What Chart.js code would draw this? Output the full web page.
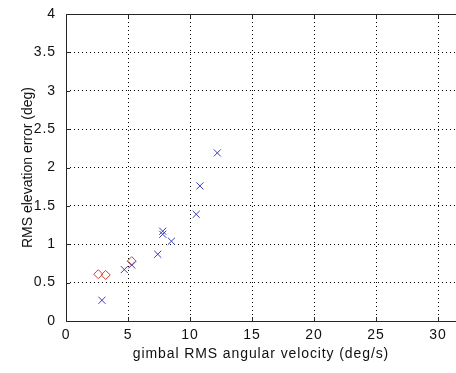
<!DOCTYPE html>
<html lang="en">
<head>
    <meta charset="UTF-8">
    <title>RMS elevation error vs gimbal angular velocity</title>
    <style>
        body {
            margin: 0;
            padding: 0;
            background: #fff;
        }

        .chart-box {
            width: 456px;
            height: 373px;
        }
    </style>
</head>
<body>
    <div class="chart-box">
        <canvas id="errChart" width="456" height="373"></canvas>
    </div>

    <script src="https://cdn.jsdelivr.net/npm/chart.js"></script>
    <script>
        // values
        const diamondX = [2.6, 3.2, 5.3];
        const diamondY = [0.61, 0.60, 0.78];
        const crossX = [2.9, 4.7, 5.3, 7.4, 7.8, 7.8, 8.5, 10.5, 10.8, 12.2];
        const crossY = [0.27, 0.67, 0.73, 0.87, 1.17, 1.13, 1.04, 1.39, 1.76, 2.19];

        const xTicks = [0, 5, 10, 15, 20, 25, 30];
        const yTicks = [0, 0.5, 1, 1.5, 2, 2.5, 3, 3.5, 4];

        const xTitle = 'gimbal RMS angular velocity (deg/s)';
        const yTitle = 'RMS elevation error (deg)';

        const toPoints = (xs, ys) => xs.map((x, i) => ({ x: x, y: ys[i] }));

        const fontFamily = 'Liberation Sans, Arial, sans-serif';
        const tickFont = { family: fontFamily, size: 14 };

        // the reference is a bit stretched sideways, so widen horizontal text
        const spacingPlugin = {
            id: 'spacing',
            beforeDraw(chart) {
                chart.ctx.letterSpacing = '0.9px';
            }
        };

        // matlab-style frame, inward tick marks and the vertical title
        const framePlugin = {
            id: 'frame',
            afterDraw(chart) {
                const ctx = chart.ctx;
                const area = chart.chartArea;
                const xs = chart.scales.x;
                const ys = chart.scales.y;
                ctx.save();
                ctx.strokeStyle = '#262626';
                ctx.lineWidth = 1;
                ctx.beginPath();
                ctx.moveTo(area.left, area.top + 0.5);
                ctx.lineTo(area.right, area.top + 0.5);
                ctx.moveTo(area.left + 0.5, area.top);
                ctx.lineTo(area.left + 0.5, area.bottom);
                ctx.moveTo(area.left, area.bottom + 0.5);
                ctx.lineTo(area.right, area.bottom + 0.5);
                xTicks.forEach(v => {
                    const px = Math.round(xs.getPixelForValue(v)) + 0.5;
                    ctx.moveTo(px, area.bottom);
                    ctx.lineTo(px, area.bottom - 4);
                    ctx.moveTo(px, area.top);
                    ctx.lineTo(px, area.top + 4);
                });
                yTicks.forEach(v => {
                    const py = Math.round(ys.getPixelForValue(v)) + 0.5;
                    ctx.moveTo(area.left, py);
                    ctx.lineTo(area.left + 4, py);
                });
                ctx.stroke();

                ctx.letterSpacing = '0px';
                ctx.fillStyle = '#111';
                ctx.font = '14px ' + fontFamily;
                ctx.textAlign = 'center';
                ctx.textBaseline = 'middle';
                ctx.translate(28, (area.top + area.bottom) / 2);
                ctx.rotate(-Math.PI / 2);
                ctx.fillText(yTitle, 0, 0);
                ctx.restore();
            }
        };

        new Chart(document.getElementById('errChart').getContext('2d'), {
            type: 'scatter',
            data: {
                datasets: [{
                    label: 'x',
                    data: toPoints(crossX, crossY),
                    pointStyle: 'crossRot',
                    pointRadius: 5,
                    borderColor: '#3c3cb4',
                    borderWidth: 1,
                    backgroundColor: 'rgba(0,0,0,0)'
                }, {
                    label: 'diamond',
                    data: toPoints(diamondX, diamondY),
                    pointStyle: 'rectRot',
                    pointRadius: 4.5,
                    borderColor: '#cc4433',
                    borderWidth: 1,
                    backgroundColor: 'rgba(0,0,0,0)'
                }]
            },
            options: {
                responsive: false,
                animation: false,
                layout: {
                    autoPadding: false,
                    padding: { top: 14, right: 0, left: 0, bottom: 0 }
                },
                plugins: {
                    legend: { display: false },
                    tooltip: { enabled: false }
                },
                scales: {
                    x: {
                        type: 'linear',
                        min: 0,
                        max: 31.45,
                        afterFit: s => {
                            s.height = 52;
                            s.paddingLeft = 0;
                            s.paddingRight = 0;
                        },
                        afterBuildTicks: s => { s.ticks = xTicks.map(v => ({ value: v })); },
                        ticks: {
                            font: tickFont,
                            color: '#111',
                            padding: 6,
                            maxRotation: 0,
                            callback: v => String(v)
                        },
                        grid: {
                            color: '#000',
                            lineWidth: 1,
                            drawTicks: false
                        },
                        border: {
                            display: false,
                            dash: [1, 3]
                        },
                        title: {
                            display: true,
                            text: xTitle,
                            font: tickFont,
                            color: '#111',
                            padding: { top: 4, bottom: 10 }
                        }
                    },
                    y: {
                        type: 'linear',
                        min: 0,
                        max: 4,
                        afterFit: s => {
                            s.width = 66;
                            s.paddingTop = 0;
                            s.paddingBottom = 0;
                        },
                        afterBuildTicks: s => { s.ticks = yTicks.map(v => ({ value: v })); },
                        ticks: {
                            font: tickFont,
                            color: '#111',
                            padding: 10,
                            callback: v => String(v)
                        },
                        grid: {
                            color: '#000',
                            lineWidth: 1,
                            drawTicks: false
                        },
                        border: {
                            display: false,
                            dash: [1, 3]
                        },
                        title: {
                            display: false
                        }
                    }
                }
            },
            plugins: [spacingPlugin, framePlugin]
        });
    </script>
</body>
</html>
